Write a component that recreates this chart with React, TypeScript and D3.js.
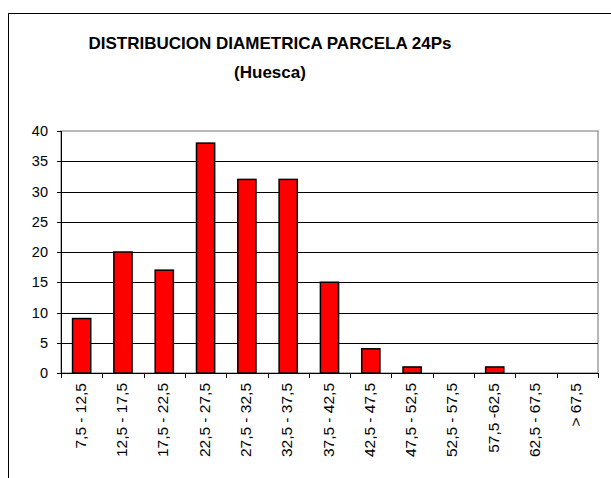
import React from "react";
import * as d3 from "d3";

const categories = [
  "7,5 - 12,5", "12,5 - 17,5", "17,5 - 22,5", "22,5 - 27,5", "27,5 - 32,5",
  "32,5 - 37,5", "37,5 - 42,5", "42,5 - 47,5", "47,5 - 52,5", "52,5 - 57,5",
  "57,5 -62,5", "62,5 - 67,5", "> 67,5",
];
const counts = [9, 20, 17, 38, 32, 32, 15, 4, 1, 0, 1, 0, 0];
const yTicks = [0, 5, 10, 15, 20, 25, 30, 35, 40];
const titleLine1 = "DISTRIBUCION DIAMETRICA PARCELA 24Ps";
const titleLine2 = "(Huesca)";

export default function App() {
  const W = 611, H = 478;
  const left = 61, right = 598, top = 131, bottom = 373;
  const x = d3.scaleBand<string>().domain(categories).range([left, right]).paddingInner(0).paddingOuter(0);
  const y = d3.scaleLinear().domain([0, 40]).range([bottom, top]);
  const bw = x.bandwidth();
  const barW = bw * 0.44;
  const font = "Liberation Sans, Arial, sans-serif";
  const boundaries = d3.range(categories.length + 1).map((i) => left + i * bw);

  return (
    <svg width={W} height={H} style={{ position: "absolute", left: 0, top: 0, background: "#fff" }}>
      <rect x={0} y={0} width={W} height={H} fill="#fff" />
      <rect x={8.5} y={13.5} width={W + 20} height={H + 20} fill="none" stroke="#000" strokeWidth={1} />
      <text x={270} y={49} textAnchor="middle" fontFamily={font} fontWeight="bold" fontSize={17}>{titleLine1}</text>
      <text x={270} y={78} textAnchor="middle" fontFamily={font} fontWeight="bold" fontSize={17}>{titleLine2}</text>

      {/* plot area border */}
      <rect x={left} y={top} width={right - left} height={bottom - top} fill="none" stroke="#888" strokeWidth={1.2} />
      {yTicks.filter((t) => t > 0 && t < 40).map((t) => (
        <line key={"g" + t} x1={left} x2={right} y1={Math.round(y(t)) + 0.5} y2={Math.round(y(t)) + 0.5} stroke="#000" strokeWidth={1} />
      ))}

      {/* y axis */}
      <line x1={left + 0.5} x2={left + 0.5} y1={top} y2={bottom} stroke="#000" strokeWidth={1} />
      {yTicks.map((t) => (
        <g key={"y" + t}>
          <line x1={left - 4} x2={left} y1={Math.round(y(t)) + 0.5} y2={Math.round(y(t)) + 0.5} stroke="#000" />
          <text x={48} y={y(t) + 5} textAnchor="end" fontFamily={font} fontSize={14.5}>{t}</text>
        </g>
      ))}

      {/* bars */}
      {categories.map((c, i) => {
        const v = counts[i];
        if (v <= 0) return null;
        const cx = (x(c) as number) + bw / 2;
        return (
          <rect key={c} x={cx - barW / 2} y={y(v)} width={barW} height={bottom - y(v)} fill="#ff0000" stroke="#000" strokeWidth={1.5} />
        );
      })}

      {/* x axis */}
      <line x1={left} x2={right} y1={bottom + 0.5} y2={bottom + 0.5} stroke="#000" strokeWidth={1} />
      {boundaries.map((b, i) => (
        <line key={"xt" + i} x1={Math.round(b) + 0.5} x2={Math.round(b) + 0.5} y1={bottom} y2={bottom + 5} stroke="#000" />
      ))}
      {categories.map((c) => {
        const cx = (x(c) as number) + bw / 2;
        return (
          <text key={"xl" + c} transform={`translate(${cx + 4},${383}) rotate(-90)`} textAnchor="end" fontFamily={font} fontSize={15.5}>{c}</text>
        );
      })}
    </svg>
  );
}
